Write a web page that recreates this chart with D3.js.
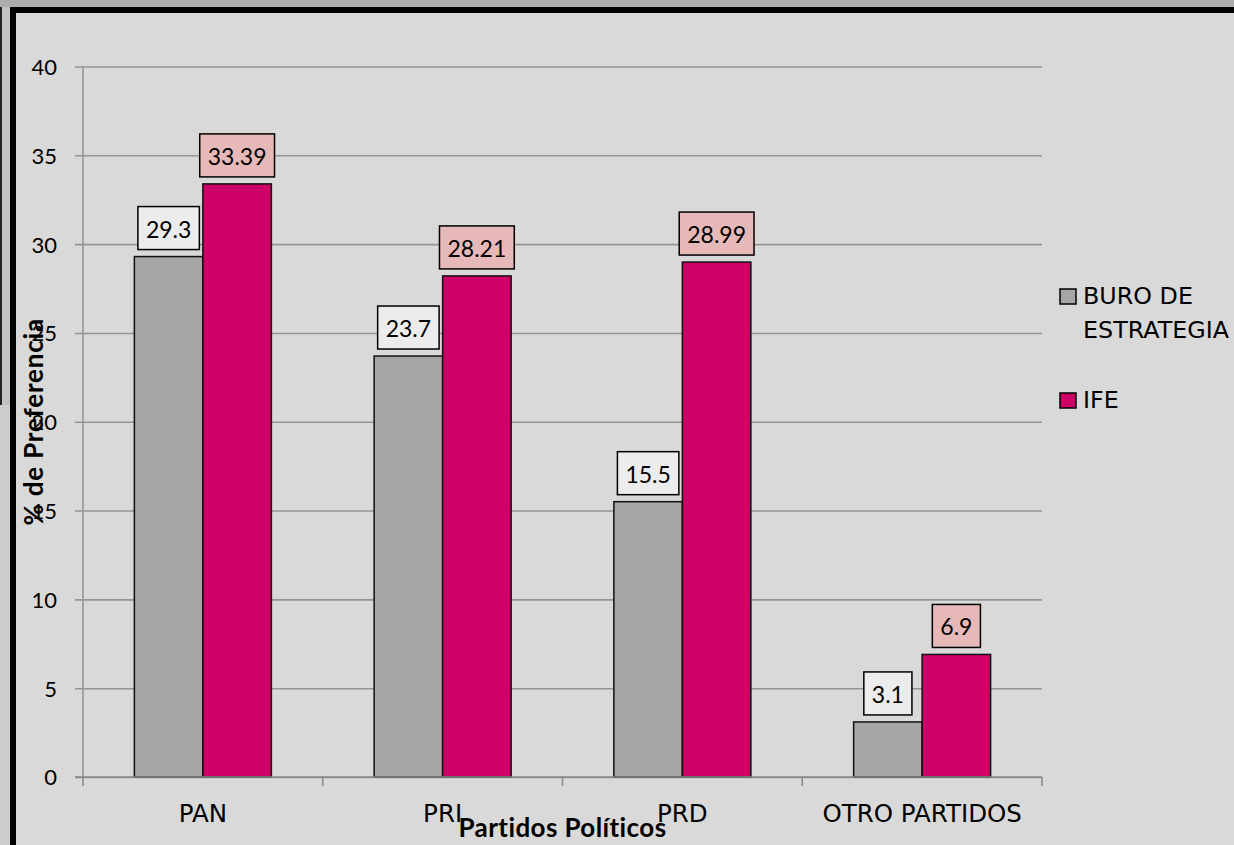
<!DOCTYPE html>
<html>
<head>
<meta charset="utf-8">
<script src="https://cdn.jsdelivr.net/npm/d3@7"></script>
<style>
  body { margin: 0; background: #d9d9d9; }
  svg { display: block; }
</style>
</head>
<body>
<div id="chart"></div>
<script>
// chart data
var categories = ["PAN", "PRI", "PRD", "OTRO PARTIDOS"];
var seriesNames = ["BURO DE ESTRATEGIA", "IFE"];
var buroValues = [29.3, 23.7, 15.5, 3.1];
var ifeValues = [33.39, 28.21, 28.99, 6.9];
var buroLabels = ["29.3", "23.7", "15.5", "3.1"];
var ifeLabels = ["33.39", "28.21", "28.99", "6.9"];
var yTicks = [0, 5, 10, 15, 20, 25, 30, 35, 40];

var W = 1234, H = 845;
var plot = {left: 83, right: 1042, top: 66.5, bottom: 777};

var colors = {"BURO DE ESTRATEGIA": "#a6a6a6", "IFE": "#cc0066"};
var labelFill = {"BURO DE ESTRATEGIA": "#ececec", "IFE": "#e6b9b8"};
var numFont = "Lato, 'Noto Sans', sans-serif";

var svg = d3.select("#chart").append("svg")
    .attr("width", W)
    .attr("height", H);

// window frame
svg.append("rect").attr("x", 0).attr("y", 0).attr("width", W).attr("height", H).attr("fill", "#d9d9d9");
svg.append("rect").attr("x", 0).attr("y", 0).attr("width", 10).attr("height", H).attr("fill", "#cdcdcd");
svg.append("rect").attr("x", 0).attr("y", 7).attr("width", 2).attr("height", 398).attr("fill", "#222");
svg.append("rect").attr("x", 2).attr("y", 7).attr("width", 8).attr("height", 398).attr("fill", "#c2c2c2");
svg.append("rect").attr("x", 0).attr("y", 0).attr("width", W).attr("height", 7).attr("fill", "#adadad");
svg.append("rect").attr("x", 10).attr("y", 7).attr("width", W - 10).attr("height", 6).attr("fill", "#000");
svg.append("rect").attr("x", 10).attr("y", 7).attr("width", 6).attr("height", H - 7).attr("fill", "#000");

// scales
var x0 = d3.scaleBand()
    .domain(categories)
    .range([plot.left, plot.right])
    .padding(0);

var x1 = d3.scaleBand()
    .domain(seriesNames)
    .range([0, x0.bandwidth()])
    .paddingInner(0)
    .paddingOuter(0.75);

var y = d3.scaleLinear()
    .domain([0, 40])
    .range([plot.bottom, plot.top]);

// gridlines + y tick labels
var yAxis = svg.append("g")
    .attr("transform", "translate(" + (plot.left - 8) + ",0)")
    .call(d3.axisLeft(y)
        .tickValues(yTicks)
        .tickSizeInner(-(plot.right - plot.left + 8))
        .tickSizeOuter(0)
        .tickPadding(18));
yAxis.attr("font-size", null).attr("font-family", null);
yAxis.select(".domain").remove();
yAxis.selectAll(".tick line")
    .attr("stroke", "#959595")
    .attr("stroke-width", 1.6);
yAxis.selectAll(".tick text")
    .attr("fill", "#000")
    .attr("dy", "0.36em")
    .style("font-family", numFont)
    .style("font-size", "22px");

// y axis line
svg.append("line")
    .attr("x1", plot.left).attr("x2", plot.left)
    .attr("y1", y(40)).attr("y2", y(0))
    .attr("stroke", "#959595")
    .attr("stroke-width", 1.6);

// bars
var data = [];
categories.forEach(function (c, i) {
    data.push({cat: c, series: seriesNames[0], value: buroValues[i], label: buroLabels[i]});
    data.push({cat: c, series: seriesNames[1], value: ifeValues[i], label: ifeLabels[i]});
});

svg.selectAll("rect.bar")
    .data(data)
    .enter()
    .append("rect")
    .attr("class", "bar")
    .attr("x", function (d) { return x0(d.cat) + x1(d.series); })
    .attr("y", function (d) { return y(d.value); })
    .attr("width", x1.bandwidth())
    .attr("height", function (d) { return y(0) - y(d.value); })
    .attr("fill", function (d) { return colors[d.series]; })
    .attr("stroke", "#111")
    .attr("stroke-width", 1.5);

// x axis line and boundary ticks
svg.append("line")
    .attr("x1", plot.left - 8).attr("x2", plot.right)
    .attr("y1", y(0)).attr("y2", y(0))
    .attr("stroke", "#8a8a8a")
    .attr("stroke-width", 1.6);

var bounds = categories.map(function (c) { return x0(c); }).concat([plot.right]);
svg.selectAll("line.xtick")
    .data(bounds)
    .enter()
    .append("line")
    .attr("class", "xtick")
    .attr("x1", function (d) { return d; })
    .attr("x2", function (d) { return d; })
    .attr("y1", y(0))
    .attr("y2", y(0) + 9)
    .attr("stroke", "#8a8a8a")
    .attr("stroke-width", 1.6);

// category labels
var xAxis = svg.append("g")
    .attr("transform", "translate(0," + y(0) + ")")
    .call(d3.axisBottom(x0).tickSize(0).tickPadding(0));
xAxis.attr("font-size", null).attr("font-family", null);
xAxis.select(".domain").remove();
xAxis.selectAll(".tick text")
    .attr("y", 45)
    .attr("dy", 0)
    .attr("fill", "#000")
    .style("font-family", "'DejaVu Sans', sans-serif")
    .style("font-size", "24.5px");

// data labels
var labels = svg.selectAll("g.dlabel")
    .data(data)
    .enter()
    .append("g")
    .attr("class", "dlabel");

labels.append("text")
    .attr("x", function (d) { return x0(d.cat) + x1(d.series) + x1.bandwidth() / 2; })
    .attr("y", function (d) { return y(d.value) - 19; })
    .attr("text-anchor", "middle")
    .style("font-family", numFont)
    .style("font-size", "23px")
    .attr("fill", "#000")
    .text(function (d) { return d.label; });

labels.each(function (d) {
    var g = d3.select(this);
    var bb = g.select("text").node().getBBox();
    var bw = bb.width + 16;
    var cx = x0(d.cat) + x1(d.series) + x1.bandwidth() / 2;
    var top = y(d.value) - 7 - 43;
    g.insert("rect", "text")
        .attr("x", cx - bw / 2)
        .attr("y", top)
        .attr("width", bw)
        .attr("height", 43)
        .attr("fill", labelFill[d.series])
        .attr("stroke", "#000")
        .attr("stroke-width", 1.5);
});

// axis titles
svg.append("text")
    .attr("x", (plot.left + plot.right) / 2)
    .attr("y", 837)
    .attr("text-anchor", "middle")
    .style("font-family", "Lato, sans-serif")
    .style("font-weight", "bold")
    .style("font-size", "26px")
    .style("letter-spacing", "0.4px")
    .text("Partidos Políticos");

svg.append("text")
    .attr("transform", "translate(43," + ((plot.top + plot.bottom) / 2) + ") rotate(-90)")
    .attr("text-anchor", "middle")
    .style("font-family", "Lato, sans-serif")
    .style("font-weight", "bold")
    .style("font-size", "26px")
    .style("letter-spacing", "0.8px")
    .text("% de Preferencia");

// legend
var legendRows = [
    {name: seriesNames[0], lines: ["BURO DE", "ESTRATEGIA"], y: 289},
    {name: seriesNames[1], lines: ["IFE"], y: 393}
];
var legend = svg.selectAll("g.legend")
    .data(legendRows)
    .enter()
    .append("g")
    .attr("class", "legend")
    .attr("transform", function (d) { return "translate(1060," + d.y + ")"; });

legend.append("rect")
    .attr("width", 16)
    .attr("height", 15)
    .attr("fill", function (d) { return colors[d.name]; })
    .attr("stroke", "#000")
    .attr("stroke-width", 1.5);

legend.each(function (d) {
    var t = d3.select(this).append("text")
        .attr("x", 23)
        .attr("y", 15)
        .style("font-family", "'DejaVu Sans', sans-serif")
        .style("font-size", "23.8px")
        .attr("fill", "#000");
    d.lines.forEach(function (ln, i) {
        t.append("tspan").attr("x", 23).attr("dy", i === 0 ? 0 : 34).text(ln);
    });
});
</script>
</body>
</html>
